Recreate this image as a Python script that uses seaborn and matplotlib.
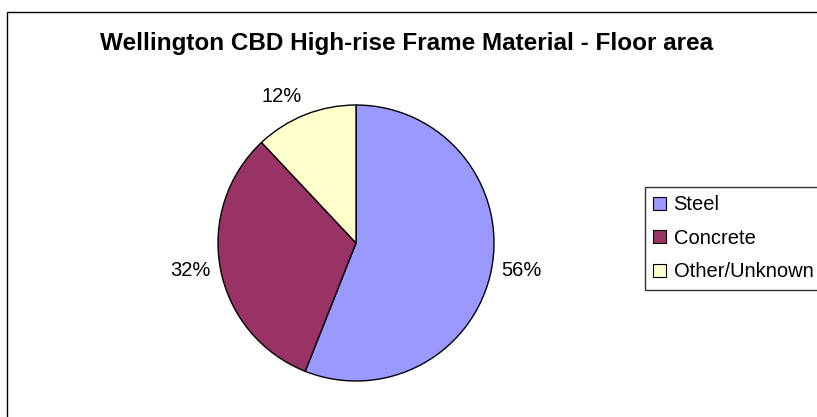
import matplotlib
matplotlib.use("Agg")
import matplotlib.pyplot as plt
import numpy as np
import seaborn as sns
from matplotlib.patches import Rectangle

categories = ["Steel", "Concrete", "Other/Unknown"]
values = [56, 32, 12]
colors = ["#9999FF", "#993366", "#FFFFCC"]
title = "Wellington CBD High-rise Frame Material - Floor area"

sns.set_theme(style="white")
plt.rcParams['font.family'] = ['Liberation Sans', 'DejaVu Sans']
plt.rcParams['text.color'] = 'black'

W, H = 817, 417
fig = plt.figure(figsize=(W / 100, H / 100), dpi=100)
fig.patch.set_facecolor("white")

# outer border (right/bottom off canvas)
fig.patches.append(Rectangle((7 / W, -0.5), 2.0, 1.5 - 12 / H, transform=fig.transFigure,
                             fill=False, edgecolor="black", linewidth=1.0))

cx, cy, r = 356, 243, 138
ax = fig.add_axes([(cx - r) / W, (H - cy - r) / H, 2 * r / W, 2 * r / H])
wedges, _ = ax.pie(values, colors=colors, startangle=90, counterclock=False,
                   wedgeprops=dict(edgecolor="black", linewidth=1.0))
ax.set_xlim(-1, 1)
ax.set_ylim(-1, 1)
ax.set_aspect("equal")
ax.axis("off")

# percentage labels placed outside, Excel-like
total = sum(values)
for w, v in zip(wedges, values):
    mid = np.deg2rad((w.theta1 + w.theta2) / 2)
    c, s = np.cos(mid), np.sin(mid)
    d = 1.07
    ha = "left" if c > 0 else "right"
    if abs(s) < 0.5:
        va = "center"
    else:
        va = "bottom" if s > 0 else "top"
    ax.text(d * c, d * s, f"{v / total * 100:.0f}%", ha=ha, va=va, fontsize=14.5, color="black")

fig.text(407 / W, 1 - 50 / H, title, ha="center", va="baseline", fontsize=17.5,
         fontweight="bold", color="black")

leg = fig.legend(wedges, categories, loc="upper left", bbox_to_anchor=(645 / W, 1 - 187 / H),
                 frameon=True, fancybox=False, edgecolor="black", fontsize=14.5,
                 handlelength=0.6, handleheight=0.6, handletextpad=0.4,
                 borderpad=0.42, labelspacing=0.72, borderaxespad=0)
leg.get_frame().set_linewidth(1.0)
for h in leg.legend_handles:
    h.set_edgecolor("black")
    h.set_linewidth(0.8)

fig.savefig("out.png", dpi=100)
